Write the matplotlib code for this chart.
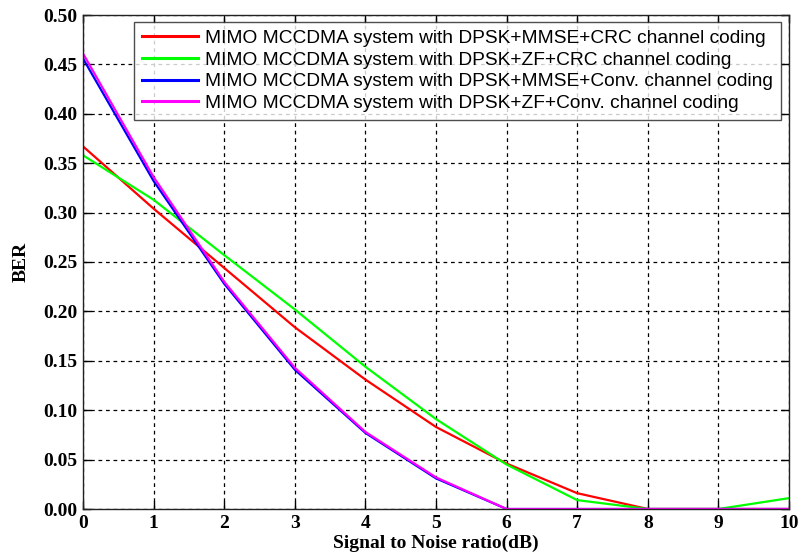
import matplotlib
matplotlib.use('Agg')
import matplotlib.pyplot as plt

# SNR points (dB)
snr = [0, 1, 2, 3, 4, 5, 6, 7, 8, 9, 10]

# BER
ber_mmse_crc = [0.367, 0.304, 0.244, 0.184, 0.131, 0.083, 0.046, 0.016, 0.0, 0.0, 0.0]
ber_zf_crc = [0.358, 0.313, 0.257, 0.202, 0.144, 0.091, 0.045, 0.009, 0.0, 0.0, 0.011]
ber_mmse_conv = [0.456, 0.332, 0.228, 0.141, 0.077, 0.031, 0.0, 0.0, 0.0, 0.0, 0.0]
ber_zf_conv = [0.461, 0.336, 0.230, 0.143, 0.078, 0.032, 0.0, 0.0, 0.0, 0.0, 0.0]

labels = ['MIMO MCCDMA system with DPSK+MMSE+CRC channel coding',
          'MIMO MCCDMA system with DPSK+ZF+CRC channel coding',
          'MIMO MCCDMA system with DPSK+MMSE+Conv. channel coding',
          'MIMO MCCDMA system with DPSK+ZF+Conv. channel coding']
colors = ['#ff0000', '#00ff00', '#0000ff', '#ff00ff']

xticks = [0, 1, 2, 3, 4, 5, 6, 7, 8, 9, 10]
yticks = [0.0, 0.05, 0.10, 0.15, 0.20, 0.25, 0.30, 0.35, 0.40, 0.45, 0.50]

fig = plt.figure(figsize=(7.99, 5.56), dpi=100)
ax = fig.add_axes([83/799, 47/556, 706/799, 494/556])

series = [ber_mmse_crc, ber_zf_crc, ber_mmse_conv, ber_zf_conv]
for ys, lab, c in zip(series, labels, colors):
    ax.plot(snr, ys, color=c, linewidth=1.6, label=lab)

ax.set_xlim(0, 10)
ax.set_ylim(0, 0.5)
ax.set_xticks(xticks)
ax.set_yticks(yticks)
ax.set_xticklabels([str(t) for t in xticks])
ax.set_yticklabels(['%.2f' % t for t in yticks])
for lbl in ax.get_xticklabels() + ax.get_yticklabels():
    lbl.set_family('Liberation Serif')
    lbl.set_fontweight('bold')
    lbl.set_fontsize(14)

ax.grid(True, color='black', linestyle=(0, (3, 3)), linewidth=0.9)
ax.tick_params(direction='in', length=6, width=1, top=True, right=True, pad=4)
for sp in ax.spines.values():
    sp.set_color('#222222')
    sp.set_linewidth(1.0)

ax.set_xlabel('Signal to Noise ratio(dB)', family='Liberation Serif',
              fontweight='bold', fontsize=14, labelpad=2)
ax.set_ylabel('BER', family='Liberation Serif', fontweight='bold',
              fontsize=14, labelpad=10)

leg = ax.legend(loc='upper right', bbox_to_anchor=(0.9885, 0.986),
                prop={'family': 'Liberation Sans', 'size': 13.8},
                frameon=True, fancybox=False, edgecolor='#222222',
                borderpad=0.4, labelspacing=0.22, handlelength=2.9,
                handletextpad=0.4, borderaxespad=0.0)
leg.get_frame().set_linewidth(1.0)
for ln in leg.get_lines():
    ln.set_linewidth(2.2)

fig.savefig('out.png', dpi=100)
